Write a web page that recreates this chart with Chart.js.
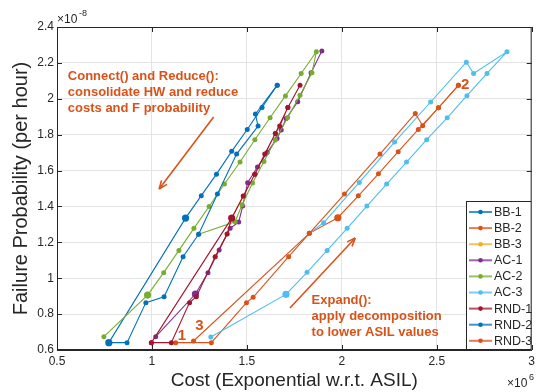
<!DOCTYPE html>
<html lang="en">
<head>
<meta charset="UTF-8">
<title>Cost vs Failure Probability</title>
<style>
  body { margin:0; padding:0; background:#fff; }
  #wrap { width:539px; height:392px; }
</style>
</head>
<body>
<div id="wrap"><canvas id="chart" width="539" height="392"></canvas></div>
<script src="https://cdn.jsdelivr.net/npm/chart.js"></script>
<script>
// cost in units of 1e6, failure probability in units of 1e-8
const xTicks = [0.5, 1, 1.5, 2, 2.5, 3];
const yTicks = [0.6, 0.8, 1, 1.2, 1.4, 1.6, 1.8, 2, 2.2, 2.4];

const seriesNames  = ['BB-1', 'BB-2', 'BB-3', 'AC-1', 'AC-2', 'AC-3', 'RND-1', 'RND-2', 'RND-3'];
const seriesColors = ['#0072BD', '#D95319', '#EDB120', '#7E2F8E', '#77AC30', '#4DBEEE', '#A2142F', '#0072BD', '#D95319'];

const bb1Cost = [1.660, 1.580, 1.502, 1.420, 1.340, 1.260, 1.177, 0.773];
const bb1Prob = [2.076, 1.952, 1.829, 1.707, 1.580, 1.460, 1.335, 0.641];

const bb2Cost = [1.125, 1.313, 1.498, 1.533, 1.720, 1.829, 1.979, 2.087, 2.193, 2.297, 2.403, 2.509, 2.614];
const bb2Prob = [0.641, 0.641, 0.864, 0.894, 1.120, 1.250, 1.337, 1.459, 1.582, 1.705, 1.829, 1.950, 2.075];

const bb3Cost = [1.333, 1.396, 1.420, 1.481];
const bb3Prob = [1.120, 1.246, 1.335, 1.458];

const ac1Cost = [1.020, 1.229, 1.295, 1.354, 1.412, 1.457, 1.478, 1.504, 1.556, 1.607, 1.659, 1.681, 1.707, 1.768, 1.838, 1.895];
const ac1Prob = [0.674, 0.912, 1.031, 1.157, 1.278, 1.313, 1.402, 1.532, 1.620, 1.700, 1.779, 1.826, 1.890, 1.983, 2.145, 2.266];

const ac2Cost = [0.747, 0.977, 1.062, 1.142, 1.221, 1.301, 1.382, 1.464, 1.542, 1.622, 1.703, 1.786, 1.866, 1.843, 1.780, 1.715, 1.650, 1.590, 1.530, 1.475, 1.438, 1.246];
const ac2Prob = [0.674, 0.906, 1.031, 1.155, 1.278, 1.400, 1.525, 1.648, 1.772, 1.894, 2.016, 2.141, 2.262, 2.145, 2.020, 1.895, 1.770, 1.650, 1.530, 1.410, 1.315, 1.245];

const ac3Cost = [1.310, 1.706, 1.817, 1.923, 2.028, 2.132, 2.236, 2.341, 2.447, 2.555, 2.659, 2.765, 2.870, 2.694, 2.656, 2.468, 2.278, 2.092, 1.904, 1.829];
const ac3Prob = [0.672, 0.910, 1.033, 1.155, 1.278, 1.402, 1.525, 1.647, 1.772, 1.894, 2.017, 2.141, 2.262, 2.141, 2.204, 1.982, 1.759, 1.534, 1.309, 1.250];

const rnd1Cost = [0.997, 1.102, 1.198, 1.234, 1.333, 1.396, 1.420, 1.481, 1.542, 1.594, 1.650, 1.673, 1.716, 1.780, 1.716, 1.650, 1.542, 1.420, 0.997];
const rnd1Prob = [0.641, 0.641, 0.864, 0.897, 1.120, 1.246, 1.335, 1.458, 1.580, 1.692, 1.807, 1.848, 1.952, 2.076, 1.952, 1.807, 1.580, 1.335, 0.641];

const rnd2Cost = [0.773, 0.869, 0.968, 1.064, 1.164, 1.246, 1.345, 1.446, 1.559, 1.545, 1.660];
const rnd2Prob = [0.641, 0.641, 0.864, 0.897, 1.120, 1.245, 1.469, 1.692, 1.848, 1.915, 2.076];

const rnd3Cost = [2.614, 2.509, 2.426, 2.387, 2.201, 2.014, 1.829, 1.219];
const rnd3Prob = [2.075, 1.950, 1.850, 1.918, 1.692, 1.469, 1.250, 0.650];

const allCost = [bb1Cost, bb2Cost, bb3Cost, ac1Cost, ac2Cost, ac3Cost, rnd1Cost, rnd2Cost, rnd3Cost];
const allProb = [bb1Prob, bb2Prob, bb3Prob, ac1Prob, ac2Prob, ac3Prob, rnd1Prob, rnd2Prob, rnd3Prob];
// points drawn with a larger marker
const bigMarks = [[6, 7], [6], [], [1], [1], [1], [6], [], []];

const ORANGE = '#D95319';
const TXT = '#262626';
const FONT = '"Liberation Sans", Arial, Helvetica, sans-serif';

const datasets = seriesNames.map((name, i) => ({
  label: name,
  data: allCost[i].map((c, k) => ({ x: c, y: allProb[i][k] })),
  borderColor: seriesColors[i],
  backgroundColor: seriesColors[i],
  borderWidth: 1.1,
  showLine: true,
  tension: 0,
  pointRadius: ctx => bigMarks[i].includes(ctx.dataIndex) ? 3.6 : 2.5,
  pointBorderWidth: 0,
  order: seriesNames.length - i   // later series drawn on top, like MATLAB
}));

function fmt(v) { return String(+v.toFixed(1)); }

const decor = {
  id: 'decor',
  beforeDatasetsDraw(chart) {
    const { ctx, chartArea: a, scales: { x, y } } = chart;
    ctx.save();
    ctx.strokeStyle = TXT;
    ctx.lineWidth = 1;
    ctx.strokeRect(a.left + 0.5, a.top + 0.5, a.right - a.left - 1, a.bottom - a.top - 1);
    // inward ticks on all four sides
    ctx.beginPath();
    xTicks.forEach(v => {
      const px = Math.round(x.getPixelForValue(v)) + 0.5;
      ctx.moveTo(px, a.bottom); ctx.lineTo(px, a.bottom - 5);
      ctx.moveTo(px, a.top); ctx.lineTo(px, a.top + 5);
    });
    yTicks.forEach(v => {
      const py = Math.round(y.getPixelForValue(v)) + 0.5;
      ctx.moveTo(a.left, py); ctx.lineTo(a.left + 5, py);
      ctx.moveTo(a.right, py); ctx.lineTo(a.right - 5, py);
    });
    ctx.stroke();
    ctx.restore();
  },
  afterDraw(chart) {
    const { ctx, chartArea: a, scales: { x, y } } = chart;
    ctx.save();
    ctx.fillStyle = TXT;

    // axis titles
    ctx.font = '19px ' + FONT;
    ctx.textAlign = 'center';
    ctx.textBaseline = 'middle';
    ctx.fillText('Cost (Exponential w.r.t. ASIL)', (a.left + a.right) / 2, 381);
    ctx.save();
    ctx.font = '20px ' + FONT;
    ctx.translate(21, (a.top + a.bottom) / 2);
    ctx.rotate(-Math.PI / 2);
    ctx.fillText('Failure Probability (per hour)', 0, 0);
    ctx.restore();

    // exponent labels
    ctx.textAlign = 'left';
    ctx.font = '12px ' + FONT;
    ctx.fillText('\u00d710', a.left, 20);
    ctx.fillText('\u00d710', 507, 384);
    ctx.font = '9px ' + FONT;
    ctx.fillText('-8', a.left + 22, 14);
    ctx.fillText('6', 529, 378);

    // annotations
    ctx.fillStyle = ORANGE;
    ctx.strokeStyle = ORANGE;
    ctx.font = 'bold 13px ' + FONT;
    const block = (lines, cx, cy) => {
      const px = x.getPixelForValue(cx), py = y.getPixelForValue(cy);
      lines.forEach((t, k) => ctx.fillText(t, px, py + k * 16));
    };
    block(['Connect() and Reduce():', 'consolidate HW and reduce', 'costs and F probability'], 0.557, 2.126);
    block(['Expand():', 'apply decomposition', 'to lower ASIL values'], 1.841, 0.879);

    ctx.font = 'bold 15px ' + FONT;
    ctx.textAlign = 'center';
    ctx.fillText('1', x.getPixelForValue(1.158), y.getPixelForValue(0.678));
    ctx.fillText('3', x.getPixelForValue(1.250), y.getPixelForValue(0.734));
    ctx.fillText('2', x.getPixelForValue(2.650), y.getPixelForValue(2.076));

    const arrow = (x0, y0, x1, y1) => {
      const p0 = [x.getPixelForValue(x0), y.getPixelForValue(y0)];
      const p1 = [x.getPixelForValue(x1), y.getPixelForValue(y1)];
      const ang = Math.atan2(p1[1] - p0[1], p1[0] - p0[0]);
      ctx.lineWidth = 1.6;
      ctx.beginPath();
      ctx.moveTo(p0[0], p0[1]); ctx.lineTo(p1[0], p1[1]);
      ctx.stroke();
      ctx.beginPath();
      ctx.moveTo(p1[0], p1[1]);
      ctx.lineTo(p1[0] - 9 * Math.cos(ang - 0.38), p1[1] - 9 * Math.sin(ang - 0.38));
      ctx.moveTo(p1[0], p1[1]);
      ctx.lineTo(p1[0] - 9 * Math.cos(ang + 0.38), p1[1] - 9 * Math.sin(ang + 0.38));
      ctx.stroke();
    };
    arrow(1.325, 1.898, 1.038, 1.497);
    arrow(1.727, 0.834, 2.071, 1.224);

    // legend box, bottom right inside the axes
    const lx = 466, ly = 201, lw = a.right - lx, lh = a.bottom - ly;
    ctx.fillStyle = '#fff';
    ctx.fillRect(lx, ly, lw, lh);
    ctx.strokeStyle = TXT;
    ctx.lineWidth = 1;
    ctx.strokeRect(lx + 0.5, ly + 0.5, lw - 1, lh - 1);
    ctx.font = '12.5px ' + FONT;
    ctx.textAlign = 'left';
    ctx.textBaseline = 'middle';
    chart.data.datasets.forEach((ds, i) => {
      const yy = ly + 11 + i * 16.1;
      ctx.globalAlpha = 0.75;
      ctx.strokeStyle = ds.borderColor;
      ctx.lineWidth = 2;
      ctx.beginPath();
      ctx.moveTo(lx + 3, yy); ctx.lineTo(lx + 26, yy);
      ctx.stroke();
      ctx.globalAlpha = 1;
      ctx.fillStyle = ds.borderColor;
      ctx.beginPath();
      ctx.arc(lx + 14.5, yy, 2.3, 0, Math.PI * 2);
      ctx.fill();
      ctx.fillStyle = TXT;
      ctx.fillText(ds.label, lx + 28, yy + 0.5);
    });
    ctx.restore();
  }
};

new Chart(document.getElementById('chart'), {
  type: 'scatter',
  data: { datasets },
  options: {
    responsive: false,
    animation: false,
    devicePixelRatio: 1,
    layout: { padding: { left: 0, right: 1, top: 27, bottom: 0 } },
    plugins: { legend: { display: false }, tooltip: { enabled: false } },
    scales: {
      x: {
        type: 'linear', min: 0.5, max: 3,
        afterBuildTicks: s => { s.ticks = xTicks.map(v => ({ value: v })); },
        afterFit: s => { s.height = 42; },
        ticks: { color: TXT, font: { size: 12, family: FONT }, padding: 4, maxRotation: 0, callback: fmt },
        grid: { color: '#e4e4e4', drawTicks: false },
        border: { color: TXT }
      },
      y: {
        type: 'linear', min: 0.6, max: 2.4,
        afterBuildTicks: s => { s.ticks = yTicks.map(v => ({ value: v })); },
        afterFit: s => { s.width = 57; },
        ticks: { color: TXT, font: { size: 12, family: FONT }, padding: 3, callback: fmt },
        grid: { color: '#e4e4e4', drawTicks: false },
        border: { color: TXT }
      }
    }
  },
  plugins: [decor]
});
</script>
</body>
</html>
